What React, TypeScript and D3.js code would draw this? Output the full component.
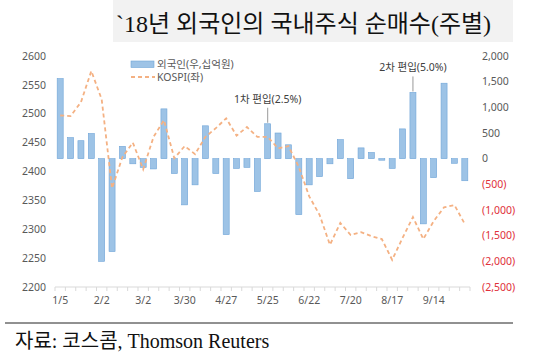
import React from "react";
import * as d3 from "d3";

const weeks = [
  "1/5", "1/12", "1/19", "1/26", "2/2", "2/9", "2/16", "2/23", "3/2", "3/9",
  "3/16", "3/23", "3/30", "4/6", "4/13", "4/20", "4/27", "5/4", "5/11", "5/18",
  "5/25", "6/1", "6/8", "6/15", "6/22", "6/29", "7/6", "7/13", "7/20", "7/27",
  "8/3", "8/10", "8/17", "8/24", "8/31", "9/7", "9/14", "9/21", "9/28", "10/5",
];

const foreignNet = [
  1560, 410, 350, 490, -2000, -1810, 240, -100, -170, -200,
  970, -290, -900, -510, 640, -290, -1480, -190, -170, -640,
  680, 500, 270, -1090, -510, -350, -100, 370, -390, 210,
  120, -30, -190, 580, 1290, -1270, -370, 1470, -90, -430,
];

const kospi = [
  2497, 2496, 2520, 2574, 2525, 2371, 2425, 2450, 2404, 2460,
  2489, 2423, 2444, 2430, 2460, 2475, 2492, 2462, 2477, 2460,
  2460, 2440, 2444, 2408, 2357, 2325, 2273, 2311, 2290, 2295,
  2288, 2283, 2247, 2285, 2321, 2283, 2314, 2338, 2342, 2309,
];

const xTickLabels = ["1/5", "2/2", "3/2", "3/30", "4/27", "5/25", "6/22", "7/20", "8/17", "9/14"];
const leftTicks = [2200, 2250, 2300, 2350, 2400, 2450, 2500, 2550, 2600];
const rightTicks = [-2500, -2000, -1500, -1000, -500, 0, 500, 1000, 1500, 2000];

const annotations = [
  { week: "5/25", text: "1차 편입(2.5%)" },
  { week: "8/31", text: "2차 편입(5.0%)" },
];

const titleText = "`18년 외국인의 국내주식 순매수(주별)";
const sourceText = "자료:  코스콤, Thomson Reuters";
const legendBar = "외국인(우,십억원)";
const legendLine = "KOSPI(좌)";

export default function App() {
  const W = 540, H = 360;
  const x = d3.scaleBand<string>().domain(weeks).range([55, 470]).paddingInner(0.42).paddingOuter(0.21);
  const yL = d3.scaleLinear().domain([2200, 2600]).range([287, 56]);
  const yR = d3.scaleLinear().domain([-2500, 2000]).range([287, 56]);
  const cx = (w: string) => (x(w) as number) + x.bandwidth() / 2;
  const line = d3.line<number>().x((_, i) => cx(weeks[i])).y((d) => yL(d));
  const fmtR = (v: number) => (v < 0 ? `(${d3.format(",")(-v)})` : d3.format(",")(v));
  const step = x.step();
  const font = "'Noto Sans', 'Noto Sans CJK KR', sans-serif";
  const serif = "'Liberation Serif', 'Noto Sans CJK KR', serif";

  return (
    <svg width={W} height={H} style={{ position: "absolute", left: 0, top: 0, background: "#fff" }}>
      {/* title */}
      <rect x={113} y={0} width={400} height={42} fill="#f2f2f2" />
      <text x={116} y={32} fontSize={24} fontFamily={serif} fill="#111">{titleText}</text>

      {/* left axis labels */}
      {leftTicks.map((t) => (
        <text key={t} x={46} y={yL(t)} dy="0.35em" textAnchor="end" fontSize={10.5} fontFamily={font} fill="#595959">{t}</text>
      ))}
      {/* right axis labels */}
      {rightTicks.map((t) => (
        <text key={t} x={482} y={yR(t)} dy="0.35em" textAnchor="start" fontSize={10.5} fontFamily={font} fill={t < 0 ? "#e0303a" : "#595959"}>{fmtR(t)}</text>
      ))}

      {/* bars */}
      {foreignNet.map((v, i) => (
        <rect key={i} x={x(weeks[i])} width={x.bandwidth()} y={yR(Math.max(0, v))}
          height={Math.max(0.8, Math.abs(yR(v) - yR(0)))} fill="#9dc3e6" stroke="#6fa5d8" strokeWidth={0.6} />
      ))}

      {/* kospi line */}
      <path d={line(kospi) || ""} fill="none" stroke="#f4b183" strokeWidth={1.8} strokeDasharray="4,3" />

      {/* x axis */}
      <line x1={55} x2={470} y1={287} y2={287} stroke="#d9d9d9" strokeWidth={1} />
      {weeks.map((w, i) => (
        <line key={w} x1={55 + i * step} x2={55 + i * step} y1={287} y2={291} stroke="#d9d9d9" />
      ))}
      <line x1={470} x2={470} y1={287} y2={291} stroke="#d9d9d9" />
      {xTickLabels.map((w) => (
        <text key={w} x={cx(w)} y={300} dy="0.35em" textAnchor="middle" fontSize={10.5} fontFamily={font} fill="#595959">{w}</text>
      ))}

      {/* annotations */}
      {annotations.map((a) => {
        const i = weeks.indexOf(a.week);
        const top = yR(foreignNet[i]);
        return (
          <g key={a.week}>
            <line x1={cx(a.week)} x2={cx(a.week)} y1={top - 16} y2={top - 1} stroke="#7f7f7f" strokeWidth={0.8} />
            <text x={cx(a.week)} y={top - 21} textAnchor="middle" fontSize={10.5} fontFamily={font} fill="#404040">{a.text}</text>
          </g>
        );
      })}

      {/* legend */}
      <rect x={131} y={61} width={23} height={6.5} fill="#9dc3e6" stroke="#6fa5d8" strokeWidth={0.6} />
      <text x={157} y={64} dy="0.35em" fontSize={10.5} fontFamily={font} fill="#595959">{legendBar}</text>
      <line x1={131} x2={155} y1={77} y2={77} stroke="#f4b183" strokeWidth={1.8} strokeDasharray="4,3" />
      <text x={157} y={77} dy="0.35em" fontSize={10.5} fontFamily={font} fill="#595959">{legendLine}</text>

      {/* footer */}
      <line x1={5} x2={513} y1={323} y2={323} stroke="#222" strokeWidth={1} />
      <text x={15} y={348} fontSize={20} fontFamily={serif} fill="#111">{sourceText}</text>
    </svg>
  );
}
